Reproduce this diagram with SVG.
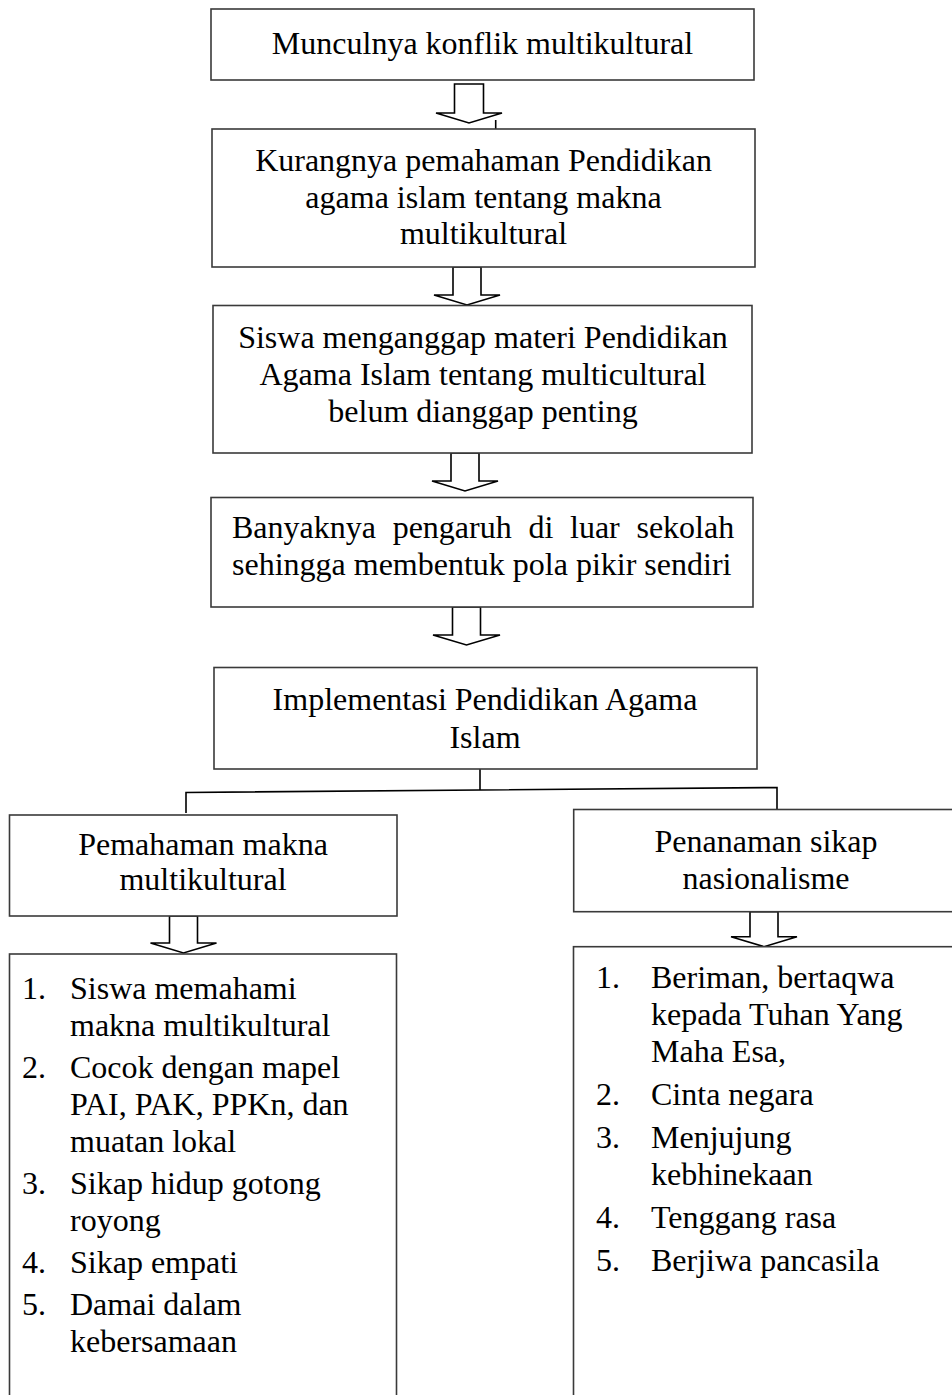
<svg xmlns="http://www.w3.org/2000/svg" width="952" height="1395" viewBox="0 0 952 1395">
<style>
.box{fill:#fff;stroke:#3a3a3a;stroke-width:1.6}
.arr{fill:#fff;stroke:#000;stroke-width:1.6;stroke-linejoin:miter}
.ln{fill:none;stroke:#000;stroke-width:1.6}
text{font-family:"Liberation Serif","Times New Roman",serif;font-size:32px;fill:#000}
.c{text-anchor:middle}
</style>
<rect width="952" height="1395" fill="#fff"/>
<g id="connectors">
<polygon class="arr" points="454.5,84 483.5,84 483.5,113 502,113 469,123 436,113 454.5,113"/>
<line class="ln" x1="495.7" y1="120" x2="495.7" y2="129"/>
<polygon class="arr" points="453,267 481,267 481,295 500,295 467,305 434,295 453,295"/>
<polygon class="arr" points="451,453 479,453 479,481 498,481 465,491 432,481 451,481"/>
<polygon class="arr" points="452.5,607 480.5,607 480.5,635 500,635 466.5,645 433,635 452.5,635"/>
<path class="ln" d="M480,769 V790 M186,813 V792.5 L777,787.5 V809"/>
<polygon class="arr" points="169.5,916 197.5,916 197.5,943 216.5,943 183.5,953 150.5,943 169.5,943"/>
<polygon class="arr" points="750,911.7 778,911.7 778,936.7 797,936.7 764,946.7 731,936.7 750,936.7"/>
</g>
<g id="n1">
<rect class="box" x="211" y="9" width="543" height="71"/>
<text class="c" x="482.5" y="54">Munculnya konflik multikultural</text>
</g>
<g id="n2">
<rect class="box" x="212" y="129" width="543" height="138"/>
<text class="c" x="483.5" y="171">Kurangnya pemahaman Pendidikan</text>
<text class="c" x="483.5" y="208">agama islam tentang makna</text>
<text class="c" x="483.5" y="244">multikultural</text>
</g>
<g id="n3">
<rect class="box" x="213" y="305.5" width="539" height="147.5"/>
<text class="c" x="483" y="348">Siswa menganggap materi Pendidikan</text>
<text class="c" x="483" y="385">Agama Islam tentang multicultural</text>
<text class="c" x="483" y="422">belum dianggap penting</text>
</g>
<g id="n4">
<rect class="box" x="211" y="497.5" width="542" height="109.5"/>
<text x="232" y="538" word-spacing="8.7">Banyaknya pengaruh di luar sekolah</text>
<text x="232" y="575">sehingga membentuk pola pikir sendiri</text>
</g>
<g id="n5">
<rect class="box" x="214" y="667.5" width="543" height="101.5"/>
<text class="c" x="485" y="710">Implementasi Pendidikan Agama</text>
<text class="c" x="485" y="748">Islam</text>
</g>
<g id="n6">
<rect class="box" x="9.5" y="815" width="387.5" height="101"/>
<text class="c" x="203" y="855">Pemahaman makna</text>
<text class="c" x="203" y="890">multikultural</text>
</g>
<g id="n7">
<rect class="box" x="573.7" y="809.5" width="390" height="102.2"/>
<text class="c" x="766" y="852">Penanaman sikap</text>
<text class="c" x="766" y="889">nasionalisme</text>
</g>
<g id="n8">
<rect class="box" x="9.5" y="954" width="387" height="460"/>
<text x="22" y="999">1.</text><text x="70" y="999">Siswa memahami</text>
<text x="70" y="1036">makna multikultural</text>
<text x="22" y="1078">2.</text><text x="70" y="1078">Cocok dengan mapel</text>
<text x="70" y="1115">PAI, PAK, PPKn, dan</text>
<text x="70" y="1152">muatan lokal</text>
<text x="22" y="1194">3.</text><text x="70" y="1194">Sikap hidup gotong</text>
<text x="70" y="1231">royong</text>
<text x="22" y="1273">4.</text><text x="70" y="1273">Sikap empati</text>
<text x="22" y="1315">5.</text><text x="70" y="1315">Damai dalam</text>
<text x="70" y="1352">kebersamaan</text>
</g>
<g id="n9">
<rect class="box" x="573.5" y="946.7" width="400" height="470"/>
<text x="596" y="988">1.</text><text x="651" y="988">Beriman, bertaqwa</text>
<text x="651" y="1025">kepada Tuhan Yang</text>
<text x="651" y="1062">Maha Esa,</text>
<text x="596" y="1105">2.</text><text x="651" y="1105">Cinta negara</text>
<text x="596" y="1148">3.</text><text x="651" y="1148">Menjujung</text>
<text x="651" y="1185">kebhinekaan</text>
<text x="596" y="1228">4.</text><text x="651" y="1228">Tenggang rasa</text>
<text x="596" y="1271">5.</text><text x="651" y="1271">Berjiwa pancasila</text>
</g>
</svg>
